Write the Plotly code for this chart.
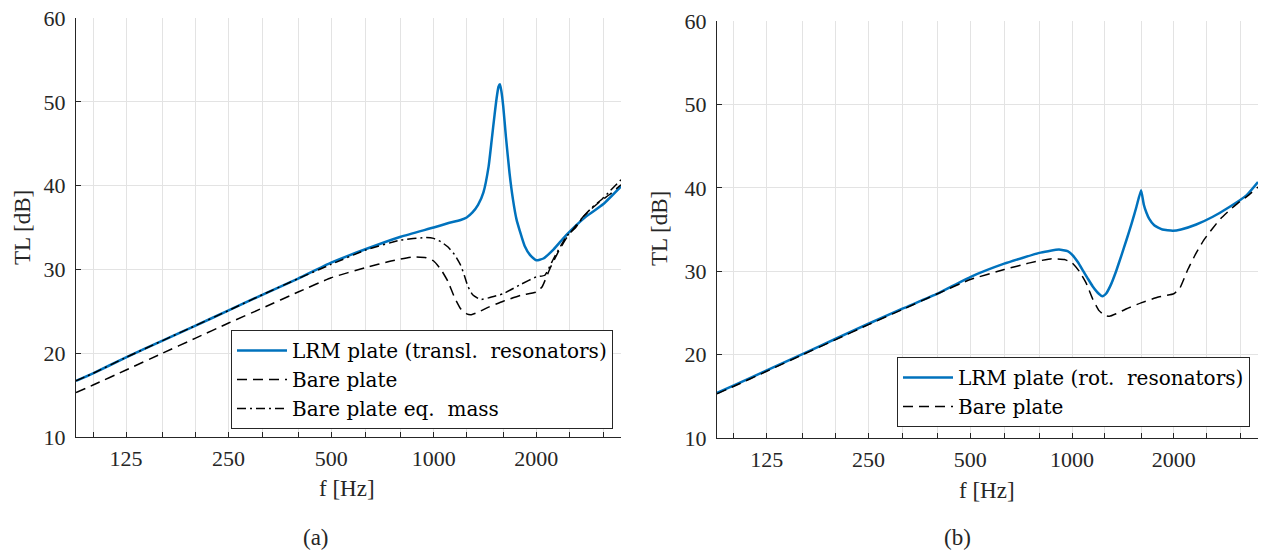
import plotly.graph_objects as go

# ---------------- data ----------------
# third-octave band centre frequencies (ticks / vertical grid)
tick_freqs = [100, 125, 160, 200, 250, 315, 400, 500, 630, 800, 1000, 1250, 1600, 2000, 2500, 3150]
tick_labels = ["", "125", "", "", "250", "", "", "500", "", "", "1000", "", "", "2000", "", ""]
y_ticks = [10, 20, 30, 40, 50, 60]

# bare plate (same in both panels)
f_bare = [89.1, 100, 125, 160, 200, 250, 315, 400, 500, 630, 750, 870, 950, 1000, 1050, 1100, 1150, 1200, 1250, 1290,
          1350, 1450, 1600, 1800, 2000, 2080, 2200, 2330, 2450, 2600, 2750, 2920, 3100, 3300, 3548]
tl_bare = [15.3, 16.2, 18.0, 20.0, 21.8, 23.6, 25.4, 27.3, 29.0, 30.2, 31.0, 31.5, 31.4, 31.0, 30.0, 28.6, 26.7, 25.3, 24.7, 24.6,
           24.9, 25.5, 26.2, 26.9, 27.3, 27.9, 30.2, 32.2, 33.7, 35.1, 36.3, 37.3, 38.2, 39.0, 40.1]

# (a) LRM plate, translational resonators
f_lrm_t = [89.1, 100, 125, 160, 200, 250, 315, 400, 500, 630, 800, 1000, 1100, 1200, 1250, 1300, 1350, 1400, 1450, 1480,
           1510, 1530, 1550, 1565, 1580, 1600, 1630, 1670, 1710, 1750, 1790, 1850, 1920, 2000, 2100, 2250, 2450, 2800, 3150, 3548]
tl_lrm_t = [16.7, 17.6, 19.5, 21.5, 23.3, 25.1, 27.0, 28.9, 30.8, 32.4, 33.9, 35.0, 35.5, 35.9, 36.2, 36.8, 37.7, 39.2, 42.3, 45.4,
            48.5, 50.4, 51.8, 52.1, 51.3, 49.5, 45.8, 41.5, 38.3, 36.0, 34.6, 32.8, 31.7, 31.1, 31.3, 32.4, 34.1, 36.3, 37.8, 39.9]

# (a) bare plate with equivalent mass
f_eqm = [89.1, 100, 125, 160, 200, 250, 315, 400, 500, 630, 800, 950, 1000, 1050, 1100, 1150, 1200, 1230, 1260, 1300,
         1370, 1450, 1600, 1800, 2000, 2120, 2250, 2450, 2600, 2750, 2920, 3125, 3300, 3548]
tl_eqm = [16.7, 17.6, 19.5, 21.5, 23.3, 25.1, 27.0, 28.9, 30.6, 32.3, 33.5, 33.8, 33.7, 33.3, 32.7, 31.8, 30.5, 29.3, 28.0, 27.0,
          26.4, 26.6, 27.1, 28.2, 29.1, 29.3, 31.3, 33.9, 34.9, 36.3, 37.4, 38.4, 39.4, 40.7]

# (b) LRM plate, rotational resonators
f_lrm_r = [89.1, 100, 125, 160, 200, 250, 315, 400, 500, 630, 800, 850, 915, 970, 1000, 1040, 1080, 1110, 1150, 1200,
           1230, 1260, 1300, 1350, 1400, 1450, 1500, 1550, 1600, 1630, 1660, 1690, 1750, 1850, 1985, 2100, 2330, 2600, 2920, 3280, 3548]
tl_lrm_r = [15.4, 16.3, 18.1, 20.1, 21.9, 23.7, 25.5, 27.3, 29.3, 30.9, 32.2, 32.4, 32.6, 32.4, 32.0, 31.1, 30.0, 29.2, 28.2, 27.3,
            27.0, 27.3, 28.3, 30.0, 31.9, 33.8, 35.7, 37.7, 39.7, 38.0, 37.0, 36.3, 35.5, 35.0, 34.85, 35.0, 35.6, 36.5, 37.7, 39.1, 40.7]

# ---------------- style ----------------
BLUE = "#0072BD"
BLACK = "#000000"
AX = "#262626"
GRID = "#e3e3e3"
FONT = "Liberation Serif, Tinos, 'Times New Roman', 'DejaVu Serif', serif"
LFONT = "'DejaVu Serif', 'Liberation Serif', serif"
DASH = "10px,6px"
DASHDOT = "9px,4px,2px,4px"

fig = go.Figure()

fig.add_trace(go.Scatter(x=f_lrm_t, y=tl_lrm_t, mode="lines", name="LRM plate (transl.  resonators)",
                         line=dict(color=BLUE, width=2.5, shape="spline", smoothing=0.5),
                         xaxis="x", yaxis="y", legend="legend"))
fig.add_trace(go.Scatter(x=f_bare, y=tl_bare, mode="lines", name="Bare plate",
                         line=dict(color=BLACK, width=1.5, dash=DASH, shape="spline", smoothing=0.4),
                         xaxis="x", yaxis="y", legend="legend"))
fig.add_trace(go.Scatter(x=f_eqm, y=tl_eqm, mode="lines", name="Bare plate eq.  mass",
                         line=dict(color=BLACK, width=1.5, dash=DASHDOT, shape="spline", smoothing=0.4),
                         xaxis="x", yaxis="y", legend="legend"))

fig.add_trace(go.Scatter(x=f_lrm_r, y=tl_lrm_r, mode="lines", name="LRM plate (rot.  resonators)",
                         line=dict(color=BLUE, width=2.5, shape="spline", smoothing=0.4),
                         xaxis="x2", yaxis="y2", legend="legend2"))
fig.add_trace(go.Scatter(x=f_bare, y=tl_bare, mode="lines", name="Bare plate",
                         line=dict(color=BLACK, width=1.5, dash=DASH, shape="spline", smoothing=0.4),
                         xaxis="x2", yaxis="y2", legend="legend2"))

W, H = 1261, 554
xa = dict(type="log", range=[1.9499, 3.5500], tickmode="array", tickvals=tick_freqs, ticktext=tick_labels,
          showgrid=True, gridcolor=GRID, gridwidth=1, showline=True, linecolor=AX, linewidth=1,
          ticks="inside", ticklen=5, tickcolor=AX, tickfont=dict(family=FONT, size=22, color=AX),
          ticklabelstandoff=2, zeroline=False, automargin=False, mirror=False)
ya = dict(range=[10, 60], tickmode="array", tickvals=y_ticks,
          showgrid=True, gridcolor=GRID, gridwidth=1, showline=True, linecolor=AX, linewidth=1,
          ticks="inside", ticklen=5, tickcolor=AX, tickfont=dict(family=FONT, size=22, color=AX),
          ticklabelstandoff=5, zeroline=False, automargin=False, mirror=False)

LEG_FONT = dict(family=LFONT, size=20, color="black")
fig.update_layout(
    width=W, height=H, margin=dict(l=0, r=0, t=0, b=0),
    paper_bgcolor="white", plot_bgcolor="white",
    font=dict(family=FONT),
    xaxis=dict(xa, domain=[76 / W, 621 / W], anchor="y"),
    yaxis=dict(ya, domain=[1 - 437 / H, 1 - 18 / H], anchor="x"),
    xaxis2=dict(xa, domain=[717 / W, 1258 / W], anchor="y2"),
    yaxis2=dict(ya, domain=[1 - 438 / H, 1 - 21 / H], anchor="x2"),
    legend=dict(x=613 / W, y=1 - 429 / H, xanchor="right", yanchor="bottom",
                bgcolor="white", bordercolor=AX, borderwidth=1, itemwidth=50,
                font=LEG_FONT, tracegroupgap=0),
    legend2=dict(x=1250 / W, y=1 - 427 / H, xanchor="right", yanchor="bottom",
                 bgcolor="white", bordercolor=AX, borderwidth=1, itemwidth=50,
                 font=LEG_FONT, tracegroupgap=0),
    showlegend=True,
)

ann_font = dict(family=FONT, size=23, color=AX)
annotations = [
    dict(text="TL [dB]", x=22 / W, y=1 - 228 / H, textangle=-90),
    dict(text="TL [dB]", x=659 / W, y=1 - 229 / H, textangle=-90),
    dict(text="f [Hz]", x=347 / W, y=1 - 488 / H),
    dict(text="f [Hz]", x=987 / W, y=1 - 490 / H),
    dict(text="(a)", x=316 / W, y=1 - 537 / H),
    dict(text="(b)", x=957 / W, y=1 - 537 / H),
]
for a in annotations:
    fig.add_annotation(xref="paper", yref="paper", showarrow=False, xanchor="center", yanchor="middle",
                       font=ann_font, **a)

fig.write_html("out.html")
